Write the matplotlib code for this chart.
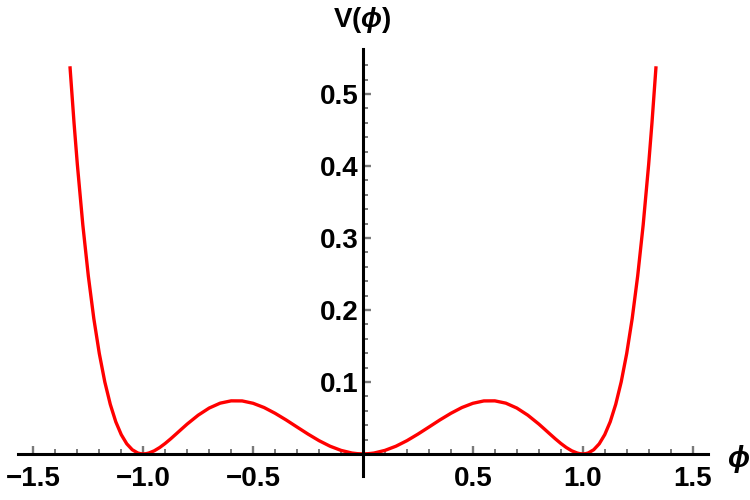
import matplotlib
matplotlib.use("Agg")
import matplotlib.pyplot as plt

# values
phi = [-1.333, -1.315, -1.30, -1.275, -1.25, -1.225, -1.20, -1.175, -1.15, -1.125,
       -1.10, -1.075, -1.05, -1.025, -1.0125, -1.00, -0.9875, -0.975, -0.95, -0.925,
       -0.90, -0.875, -0.85, -0.825, -0.80, -0.75, -0.70, -0.65, -0.60, -0.55,
       -0.50, -0.45, -0.40, -0.35, -0.30, -0.25, -0.20, -0.15, -0.10, -0.05,
       -0.025, 0.00, 0.025,
       0.05, 0.10, 0.15, 0.20, 0.25, 0.30, 0.35, 0.40, 0.45, 0.50,
       0.55, 0.60, 0.65, 0.70, 0.75, 0.80, 0.825, 0.85, 0.875, 0.90,
       0.925, 0.95, 0.975, 0.9875, 1.00, 1.0125, 1.025, 1.05, 1.075, 1.10,
       1.125, 1.15, 1.175, 1.20, 1.225, 1.25, 1.275, 1.30, 1.315, 1.333]
V = [0.5362, 0.4598, 0.4023, 0.3181, 0.2472, 0.1880, 0.1394, 0.1000, 0.0688, 0.0446,
     0.0267, 0.0140, 0.0058, 0.0013, 0.0003, 0.0000, 0.0003, 0.0012, 0.0043, 0.0089,
     0.0146, 0.0210, 0.0278, 0.0347, 0.0415, 0.0538, 0.0637, 0.0705, 0.0737, 0.0736,
     0.0703, 0.0644, 0.0564, 0.0472, 0.0373, 0.0275, 0.0184, 0.0107, 0.0049, 0.0012,
     0.0003, 0.0000, 0.0003,
     0.0012, 0.0049, 0.0107, 0.0184, 0.0275, 0.0373, 0.0472, 0.0564, 0.0644, 0.0703,
     0.0736, 0.0737, 0.0705, 0.0637, 0.0538, 0.0415, 0.0347, 0.0278, 0.0210, 0.0146,
     0.0089, 0.0043, 0.0012, 0.0003, 0.0000, 0.0003, 0.0013, 0.0058, 0.0140, 0.0267,
     0.0446, 0.0688, 0.1000, 0.1394, 0.1880, 0.2472, 0.3181, 0.4023, 0.4598, 0.5362]

xticks = [-1.5, -1.0, -0.5, 0.5, 1.0, 1.5]
xlabels = ["\u22121.5", "\u22121.0", "\u22120.5", "0.5", "1.0", "1.5"]
yticks = [0.1, 0.2, 0.3, 0.4, 0.5]
ylabels = ["0.1", "0.2", "0.3", "0.4", "0.5"]

plt.rcParams["font.family"] = ["Liberation Sans", "DejaVu Sans"]
plt.rcParams["font.weight"] = "bold"
plt.rcParams["mathtext.fontset"] = "custom"
plt.rcParams["mathtext.rm"] = "Liberation Sans:bold"
plt.rcParams["mathtext.it"] = "Liberation Sans:italic:bold"
plt.rcParams["mathtext.bf"] = "Liberation Sans:bold"

fig = plt.figure(figsize=(7.5, 5), dpi=100)
ax = fig.add_axes([0.024, 0.049, 0.92, 0.853])

ax.plot(phi, V, color="red", lw=2.4, solid_joinstyle="round")

ax.set_xlim(-1.57, 1.57)
ax.set_ylim(-0.03, 0.5625)

# axes through the origin
for s in ["top", "right"]:
    ax.spines[s].set_visible(False)
ax.spines["left"].set_position(("data", 0))
ax.spines["bottom"].set_position(("data", 0))
ax.spines["left"].set_linewidth(2.2)
ax.spines["bottom"].set_linewidth(2.2)

ax.set_xticks(xticks)
ax.set_xticklabels(xlabels)
ax.set_yticks(yticks)
ax.set_yticklabels(ylabels)
ax.set_xticks([i / 10 for i in range(-15, 16) if i % 5 != 0], minor=True)
ax.set_yticks([i / 50 for i in range(1, 28) if i % 5 != 0], minor=True)

ax.tick_params(which="both", direction="in", color="#7a7a7a", labelsize=20)
ax.tick_params(which="major", length=6, width=1.7)
ax.tick_params(which="minor", length=3.5, width=1.4)
ax.tick_params(axis="x", pad=9)
ax.tick_params(axis="y", pad=3)

fig.text(362 / 750, 1 - 20 / 500, r"$\mathrm{V}(\phi)$", ha="center", va="center",
         fontsize=20)
fig.text(738 / 750, 1 - 459 / 500, r"$\phi$", ha="center", va="center", fontsize=21)

fig.savefig("out.png", dpi=100)
